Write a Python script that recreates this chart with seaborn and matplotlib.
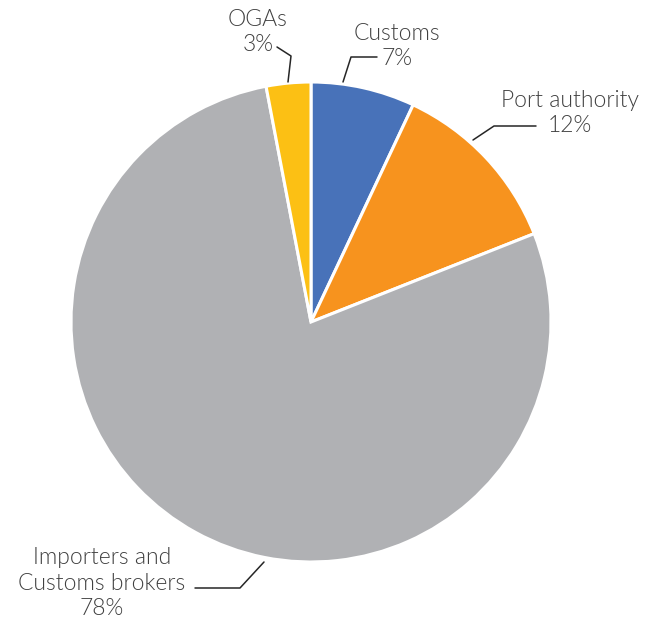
import matplotlib
matplotlib.use("Agg")
import matplotlib.pyplot as plt
import seaborn as sns

# Shares of time spent, by agency
categories = ["Customs", "Port authority", "Importers and\nCustoms brokers", "OGAs"]
shares = [7, 12, 78, 3]
colors = ["#4872B9", "#F7931E", "#B0B1B4", "#FCC014"]

sns.set_theme(style="white")
plt.rcParams["font.family"] = ["Lato", "DejaVu Sans"]

W, H = 648, 625
fig = plt.figure(figsize=(W / 100, H / 100), dpi=100)
ax = fig.add_axes([0, 0, 1, 1])

cx, cy, r = 311, H - 322, 240
ax.pie(shares, colors=colors, startangle=90, counterclock=False,
       center=(cx, cy), radius=r, frame=True,
       wedgeprops=dict(edgecolor="white", linewidth=2.2))
ax.set_xlim(0, W)
ax.set_ylim(0, H)
ax.set_aspect("equal")
ax.axis("off")

txt = dict(fontsize=16.5, fontweight=300, color="#404040",
           ha="center", va="center", linespacing=1.25)
line = dict(color="#262626", lw=1.1)

def Y(y):
    return H - y

# Customs
ax.plot([343, 351, 377], [Y(82), Y(57), Y(57)], **line)
ax.text(397, Y(46), f"{categories[0]}\n{shares[0]}%", **txt)
# Port authority
ax.plot([473, 494, 536], [Y(140), Y(126), Y(126)], **line)
ax.text(570, Y(113), f"{categories[1]}\n{shares[1]}%", **txt)
# Importers and customs brokers
ax.plot([264, 240, 195], [Y(562), Y(588), Y(588)], **line)
ax.text(102, Y(583), f"{categories[2]}\n{shares[2]}%", **txt)
# OGAs
ax.plot([288, 291, 277], [Y(82), Y(56), Y(47)], **line)
ax.text(258, Y(32), f"{categories[3]}\n{shares[3]}%", **txt)

fig.savefig("out.png", dpi=100, facecolor="white")
